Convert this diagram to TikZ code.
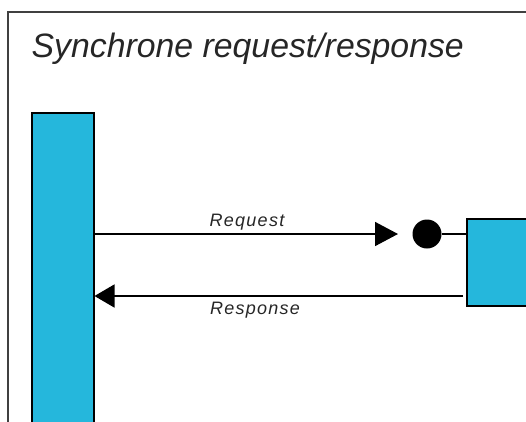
\documentclass[tikz,border=0pt]{standalone}
\usepackage{fontspec}
\setmainfont{Liberation Sans}
\usetikzlibrary{arrows.meta}

\definecolor{boxblue}{RGB}{37,183,220}

\begin{document}
\begin{tikzpicture}[x=1pt, y=-1pt,
        block/.style={draw=black, line width=1.5pt, fill=boxblue, inner sep=0pt},
        msg/.style={line width=1.6pt},
        lbl/.style={font=\itshape\fontsize{18}{21}\selectfont\addfontfeatures{LetterSpace=7}, text=black!85, anchor=base, inner sep=0pt}]
        \useasboundingbox (0,0) rectangle (526,421);
        \clip (0,0) rectangle (526,421);
        \draw[line width=1.2pt, black!75] (8,440) -- (8,12) -- (540,12);
        \node[anchor=base west, inner sep=0pt, text=black!85, font=\itshape\fontsize{33.8}{40}\selectfont] (title) at (31.5,57) {Synchrone request/response};

        \node[block, anchor=north west, minimum width=62pt, minimum height=330pt] (client) at (31,112) {};
        \node[block, anchor=north west, minimum width=80pt, minimum height=87pt] (server) at (466,218) {};
        \node[circle, fill=black, minimum size=29pt, inner sep=0pt] (port) at (427,234) {};
        \coordinate (tip) at (398,234);
        \coordinate (resp) at (463,296);

        \draw[msg, -{Triangle[length=23pt, width=24pt]}] (client.east |- port) -- (tip);
        \draw[msg] (port) -- (server.west |- port);
        \draw[msg, -{Triangle[length=20pt, width=23pt]}] (resp) -- (client.east |- resp);

        \node[lbl] (req) at (247,226) {Request};
        \node[lbl] (res) at (255,314) {Response};
\end{tikzpicture}
\end{document}
